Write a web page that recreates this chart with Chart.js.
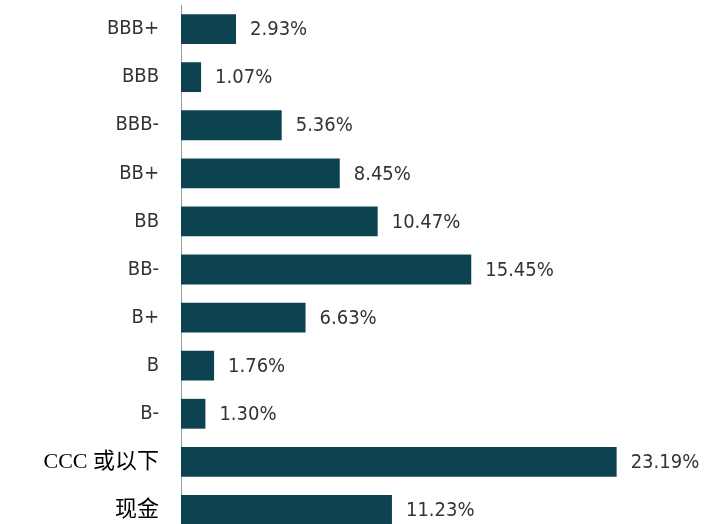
<!DOCTYPE html>
<html>
<head>
<meta charset="utf-8">
<script src="https://cdn.jsdelivr.net/npm/chart.js@4/dist/chart.umd.min.js"></script>
<style>
  html, body { margin: 0; padding: 0; background: #fff; overflow: hidden; }
  #wrap { width: 710px; height: 540px; }
</style>
</head>
<body>
<div id="wrap"><canvas id="ratings"></canvas></div>
<script>
// credit rating breakdown (%)
var ratingLabels = ['BBB+', 'BBB', 'BBB-', 'BB+', 'BB', 'BB-', 'B+', 'B', 'B-', 'CCC 或以下', '现金'];
var ratingValues = [2.93, 1.07, 5.36, 8.45, 10.47, 15.45, 6.63, 1.76, 1.30, 23.19, 11.23];

var barColor = '#0d4350';
var latinFont = '"DejaVu Sans Condensed", "DejaVu Sans", sans-serif';
var cjkFont = '"Liberation Serif", "Noto Sans CJK SC", serif';

function isCjk(s) {
    return /[\u4e00-\u9fff]/.test(s);
}

// percent text after each bar
var valueLabels = {
    id: 'valueLabels',
    afterDatasetsDraw: function(chart) {
        var ctx = chart.ctx;
        var meta = chart.getDatasetMeta(0);
        ctx.save();
        ctx.font = '20px ' + latinFont;
        ctx.fillStyle = '#333333';
        ctx.textAlign = 'left';
        ctx.textBaseline = 'middle';
        meta.data.forEach(function(bar, i) {
            ctx.fillText(ratingValues[i].toFixed(2) + '%', bar.x + 14, bar.y + 1);
        });
        ctx.restore();
    }
};

var ctx = document.getElementById('ratings');
var chart = new Chart(ctx, {
    type: 'bar',
    data: {
        labels: ratingLabels,
        datasets: [{
            data: ratingValues,
            backgroundColor: barColor,
            borderWidth: 0,
            barPercentage: 0.62,
            categoryPercentage: 1
        }]
    },
    options: {
        indexAxis: 'y',
        responsive: true,
        maintainAspectRatio: false,
        animation: false,
        layout: { padding: { top: 5, bottom: 6, right: 3, left: 0 } },
        plugins: {
            legend: { display: false },
            tooltip: { enabled: false }
        },
        scales: {
            x: {
                display: false,
                min: 0,
                max: 28
            },
            y: {
                afterFit: function(scale) {
                    scale.width = 181;
                    scale.paddingTop = 0;
                    scale.paddingBottom = 0;
                },
                grid: { display: false, drawTicks: false },
                border: { display: true, color: '#9a9a9a', width: 1 },
                ticks: {
                    padding: 22,
                    color: function(c) {
                        return isCjk(ratingLabels[c.index]) ? '#000000' : '#333333';
                    },
                    font: function(c) {
                        var lbl = ratingLabels[c.index] || '';
                        if (isCjk(lbl)) {
                            return { family: cjkFont, size: 22 };
                        }
                        return { family: latinFont, size: 20 };
                    }
                }
            }
        }
    },
    plugins: [valueLabels]
});
</script>
</body>
</html>
